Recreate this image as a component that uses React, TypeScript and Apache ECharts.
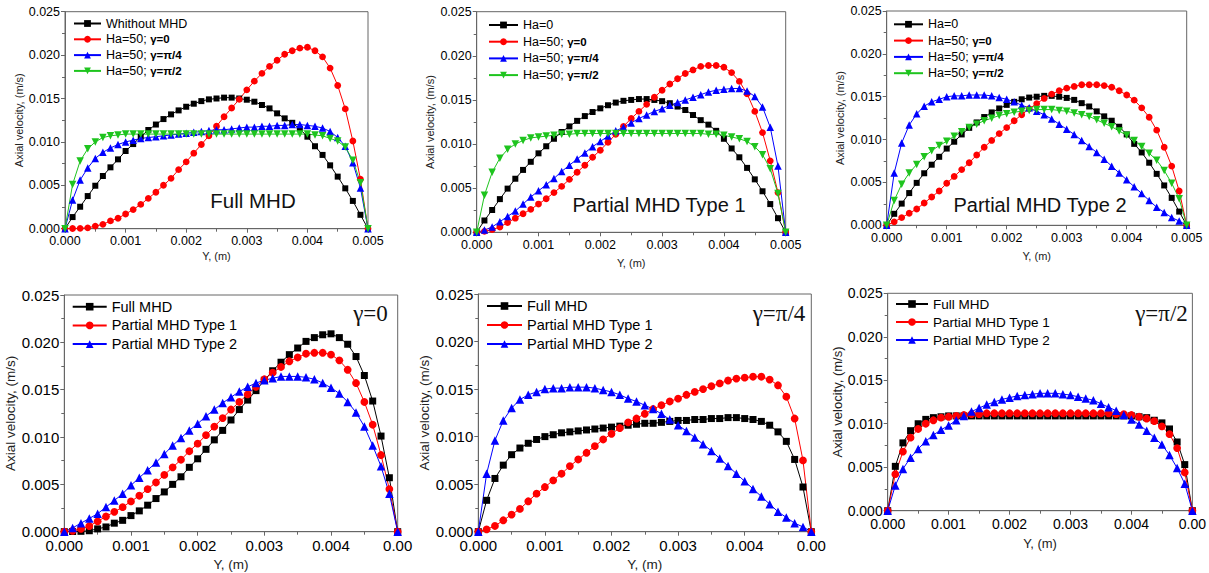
import React, { useEffect, useRef } from "react";
import * as echarts from "echarts";

// Y position (m) of the 41 computed points
const Y_POS = [0, 0.000125, 0.00025, 0.000375, 0.0005, 0.000625, 0.00075, 0.000875, 0.001, 0.001125, 0.00125, 0.001375, 0.0015, 0.001625, 0.00175, 0.001875, 0.002, 0.002125, 0.00225, 0.002375, 0.0025, 0.002625, 0.00275, 0.002875, 0.003, 0.003125, 0.00325, 0.003375, 0.0035, 0.003625, 0.00375, 0.003875, 0.004, 0.004125, 0.00425, 0.004375, 0.0045, 0.004625, 0.00475, 0.004875, 0.005];

// Ha = 0 (without MHD)
const HA_0 = [0, 0.00134, 0.00253, 0.00376, 0.00495, 0.00607, 0.00707, 0.00799, 0.00895, 0.00975, 0.0106, 0.01137, 0.012, 0.01263, 0.01317, 0.01363, 0.01405, 0.0144, 0.0147, 0.0149, 0.015, 0.0151, 0.0151, 0.015, 0.01486, 0.01463, 0.01425, 0.01386, 0.01329, 0.01271, 0.0122, 0.0115, 0.0106, 0.0095, 0.0085, 0.0073, 0.006, 0.00465, 0.0032, 0.0016, 0];

// Full MHD, Ha = 50
const FULL_G0 = [0, 0.00002, 0.00004, 0.0001, 0.0003, 0.0005, 0.0009, 0.0012, 0.0017, 0.0022, 0.0028, 0.0035, 0.0042, 0.005, 0.0058, 0.0068, 0.0077, 0.0087, 0.0097, 0.0107, 0.0118, 0.0129, 0.0139, 0.0149, 0.016, 0.017, 0.0179, 0.0187, 0.0194, 0.0201, 0.0205, 0.0208, 0.0209, 0.0205, 0.0198, 0.0185, 0.0165, 0.0138, 0.0101, 0.0057, 0];
const FULL_G4 = [0, 0.0033, 0.0056, 0.007, 0.0081, 0.0088, 0.0093, 0.0097, 0.01, 0.0102, 0.0104, 0.0105, 0.0106, 0.0107, 0.0108, 0.0109, 0.011, 0.0111, 0.0112, 0.0113, 0.0114, 0.0114, 0.0115, 0.0116, 0.0117, 0.0117, 0.0118, 0.0118, 0.0119, 0.0119, 0.012, 0.012, 0.0119, 0.0118, 0.0116, 0.0112, 0.0105, 0.0095, 0.0076, 0.0047, 0];
const FULL_G2 = [0, 0.0051, 0.0078, 0.0092, 0.01, 0.0105, 0.0107, 0.0108, 0.0109, 0.0109, 0.0109, 0.0109, 0.0109, 0.0109, 0.0109, 0.0109, 0.0109, 0.0109, 0.0109, 0.0109, 0.0109, 0.0109, 0.0109, 0.0109, 0.0109, 0.0109, 0.0109, 0.0109, 0.0109, 0.0109, 0.0109, 0.0109, 0.0109, 0.0108, 0.0107, 0.0104, 0.0101, 0.0094, 0.0079, 0.0053, 0];

// Partial MHD Type 1, Ha = 50
const T1_G0 = [0, 0.0001, 0.0003, 0.0006, 0.0011, 0.0016, 0.0021, 0.0026, 0.0032, 0.0038, 0.0045, 0.0052, 0.006, 0.0068, 0.0076, 0.0085, 0.0093, 0.0102, 0.0111, 0.012, 0.0129, 0.0137, 0.0145, 0.0153, 0.0161, 0.0168, 0.0174, 0.018, 0.0184, 0.0188, 0.0189, 0.0189, 0.0187, 0.0181, 0.0171, 0.0157, 0.0137, 0.0113, 0.0081, 0.0045, 0];
const T1_G4 = [0, 0.00025, 0.0006, 0.0012, 0.0018, 0.0024, 0.0032, 0.004, 0.0047, 0.0054, 0.0061, 0.0069, 0.0076, 0.0083, 0.009, 0.0097, 0.0103, 0.0109, 0.0115, 0.0119, 0.0124, 0.0129, 0.0133, 0.0137, 0.014, 0.0144, 0.0147, 0.015, 0.0153, 0.0156, 0.0159, 0.0161, 0.0162, 0.0163, 0.0163, 0.016, 0.0154, 0.0142, 0.0119, 0.0075, 0];
const T1_G2 = [0, 0.0042, 0.0068, 0.0084, 0.0094, 0.01, 0.0104, 0.0107, 0.0108, 0.0109, 0.011, 0.0111, 0.0111, 0.0112, 0.0112, 0.0112, 0.0112, 0.0112, 0.0112, 0.0112, 0.0112, 0.0112, 0.0112, 0.0112, 0.0112, 0.0112, 0.0112, 0.0112, 0.0112, 0.0112, 0.0111, 0.0111, 0.011, 0.0108, 0.0106, 0.0103, 0.0097, 0.0088, 0.0072, 0.0044, 0];

// Partial MHD Type 2, Ha = 50
const T2_G0 = [0, 0.0004, 0.0009, 0.0014, 0.0019, 0.0026, 0.0033, 0.004, 0.0049, 0.0057, 0.0065, 0.0073, 0.0082, 0.0091, 0.0099, 0.0107, 0.0114, 0.0122, 0.0129, 0.0136, 0.0142, 0.0148, 0.0153, 0.0157, 0.016, 0.0162, 0.0164, 0.0164, 0.0164, 0.0163, 0.0161, 0.0157, 0.0152, 0.0146, 0.0137, 0.0126, 0.0111, 0.0091, 0.0069, 0.004, 0];
const T2_G4 = [0, 0.0061, 0.0096, 0.0117, 0.013, 0.0139, 0.0144, 0.0147, 0.015, 0.0151, 0.0151, 0.0152, 0.0152, 0.0152, 0.0151, 0.0149, 0.0147, 0.0144, 0.014, 0.0137, 0.0133, 0.0129, 0.0124, 0.0118, 0.0112, 0.0106, 0.0099, 0.0092, 0.0085, 0.0077, 0.0069, 0.0061, 0.0053, 0.0045, 0.0037, 0.0029, 0.0021, 0.0015, 0.0009, 0.0005, 0];
const T2_G2 = [0, 0.0029, 0.0048, 0.0061, 0.0071, 0.008, 0.0087, 0.0093, 0.0098, 0.0104, 0.0109, 0.0114, 0.0118, 0.0122, 0.0125, 0.0128, 0.013, 0.0132, 0.0133, 0.0134, 0.0135, 0.0135, 0.0135, 0.0134, 0.0133, 0.0131, 0.0129, 0.0127, 0.0123, 0.0119, 0.0115, 0.011, 0.0105, 0.0099, 0.0092, 0.0084, 0.0076, 0.0064, 0.0049, 0.0031, 0];

const PANEL_TITLES = ["Full MHD", "Partial MHD Type 1", "Partial MHD Type 2", "γ=0", "γ=π/4", "γ=π/2"];
const X_NAME = "Y, (m)";
const Y_NAME = "Axial velocity, (m/s)";

const BLACK = "#000000";
const RED = "#ff0000";
const BLUE = "#0000ff";
const GREEN = "#1ec41e";
const SQUARE = "rect";
const CIRCLE = "circle";
const TRI_UP = "triangle";
const TRI_DOWN = "path://M0,0L10,0L5,9Z";

const SANS = "'Liberation Sans', Arial, sans-serif";
const SERIF = "'Liberation Serif', 'Times New Roman', serif";

type S = [string, number[], string, string];

const PANEL_SERIES: S[][] = [
  [["Whithout MHD", HA_0, BLACK, SQUARE], ["Ha=50; γ=0", FULL_G0, RED, CIRCLE], ["Ha=50; γ=π/4", FULL_G4, BLUE, TRI_UP], ["Ha=50; γ=π/2", FULL_G2, GREEN, TRI_DOWN]],
  [["Ha=0", HA_0, BLACK, SQUARE], ["Ha=50; γ=0", T1_G0, RED, CIRCLE], ["Ha=50; γ=π/4", T1_G4, BLUE, TRI_UP], ["Ha=50; γ=π/2", T1_G2, GREEN, TRI_DOWN]],
  [["Ha=0", HA_0, BLACK, SQUARE], ["Ha=50; γ=0", T2_G0, RED, CIRCLE], ["Ha=50; γ=π/4", T2_G4, BLUE, TRI_UP], ["Ha=50; γ=π/2", T2_G2, GREEN, TRI_DOWN]],
  [["Full MHD", FULL_G0, BLACK, SQUARE], ["Partial MHD Type 1", T1_G0, RED, CIRCLE], ["Partial MHD Type 2", T2_G0, BLUE, TRI_UP]],
  [["Full MHD", FULL_G4, BLACK, SQUARE], ["Partial MHD Type 1", T1_G4, RED, CIRCLE], ["Partial MHD Type 2", T2_G4, BLUE, TRI_UP]],
  [["Full MHD", FULL_G2, BLACK, SQUARE], ["Partial MHD Type 1", T1_G2, RED, CIRCLE], ["Partial MHD Type 2", T2_G2, BLUE, TRI_UP]],
];

// layout (pixels)
const LAYOUT = [
  { left: 65, top: 11.7, width: 303, height: 217, tick: 12.5, nameF: 11, yGap: 39, xGap: 22, lblM: 6, sym: 6, legL: 73, legT: 16.5, legW: 27, legGap: 1.8, legF: 12.5, titleX: 253, titleY: 200, titleF: 20.5 },
  { left: 476.7, top: 11.7, width: 309, height: 220.6, tick: 12.5, nameF: 11, yGap: 41, xGap: 25, lblM: 6, sym: 6, legL: 488, legT: 18, legW: 29, legGap: 2.7, legF: 12.5, titleX: 659, titleY: 205, titleF: 20 },
  { left: 886.7, top: 11, width: 300, height: 214.3, tick: 12.5, nameF: 11, yGap: 41, xGap: 25, lblM: 6, sym: 6, legL: 893, legT: 17.3, legW: 29, legGap: 2.3, legF: 12.5, titleX: 1040, titleY: 205, titleF: 20 },
  { left: 64.3, top: 295, width: 333.4, height: 236.7, tick: 15, nameF: 13.5, yGap: 43, xGap: 26, lblM: 6, sym: 7, legL: 71.7, legT: 298.7, legW: 34, legGap: 2.7, legF: 14.5, titleX: 370.5, titleY: 313, titleF: 23 },
  { left: 478.3, top: 294, width: 333, height: 237.7, tick: 15, nameF: 13.5, yGap: 43, xGap: 26, lblM: 6, sym: 7, legL: 486, legT: 298, legW: 35, legGap: 3, legF: 14.5, titleX: 779, titleY: 313, titleF: 23 },
  { left: 887.7, top: 293.3, width: 305, height: 217.4, tick: 14, nameF: 13, yGap: 39, xGap: 26, lblM: 6, sym: 7, legL: 895, legT: 296.5, legW: 32, legGap: 3, legF: 13.5, titleX: 1161.5, titleY: 313, titleF: 23 },
];

const AXIS_COLOR = "#666666";

function legendFormatter(name: string) {
  const k = name.indexOf("; ");
  return k >= 0 ? name.slice(0, k + 2) + "{b|" + name.slice(k + 2) + "}" : name;
}

function buildOption() {
  const grid: any[] = [];
  const xAxis: any[] = [];
  const yAxis: any[] = [];
  const series: any[] = [];
  const legend: any[] = [];
  const graphic: any[] = [];

  LAYOUT.forEach((L, i) => {
    const bottomRow = i >= 3;
    grid.push({
      left: L.left, top: L.top, width: L.width, height: L.height,
      show: true, borderColor: AXIS_COLOR, borderWidth: 1, backgroundColor: "transparent",
    });
    xAxis.push({
      gridIndex: i, type: "value", min: 0, max: 0.005, interval: 0.001,
      name: X_NAME, nameLocation: "middle", nameGap: L.xGap,
      nameTextStyle: { fontSize: L.nameF, fontFamily: SANS, color: "#222" },
      axisLine: { show: true, onZero: false, lineStyle: { color: AXIS_COLOR, width: 1 } },
      axisTick: { show: true, inside: false, length: 4, lineStyle: { color: AXIS_COLOR } },
      minorTick: { show: true, splitNumber: 2, length: 3, lineStyle: { color: AXIS_COLOR } },
      splitLine: { show: false },
      axisLabel: {
        fontSize: L.tick, fontFamily: SANS, color: "#000", margin: L.lblM,
        formatter: (v: number) => (bottomRow && Math.abs(v - 0.005) < 1e-9 ? "0.00" : v.toFixed(3)),
      },
    });
    yAxis.push({
      gridIndex: i, type: "value", min: 0, max: 0.025, interval: 0.005,
      name: Y_NAME, nameLocation: "middle", nameGap: L.yGap,
      nameTextStyle: { fontSize: L.nameF, fontFamily: SANS, color: "#222" },
      axisLine: { show: true, onZero: false, lineStyle: { color: AXIS_COLOR, width: 1 } },
      axisTick: { show: true, inside: false, length: 4, lineStyle: { color: AXIS_COLOR } },
      minorTick: { show: true, splitNumber: 2, length: 3, lineStyle: { color: AXIS_COLOR } },
      splitLine: { show: false },
      axisLabel: { fontSize: L.tick, fontFamily: SANS, color: "#000", margin: 5, formatter: (v: number) => v.toFixed(3) },
    });
    const names: string[] = [];
    PANEL_SERIES[i].forEach(([name, vals, color, symbol]) => {
      names.push(name);
      series.push({
        type: "line", name, xAxisIndex: i, yAxisIndex: i,
        data: Y_POS.map((y, k) => [y, vals[k]]),
        symbol, symbolSize: symbol === CIRCLE ? L.sym + 0.8 : symbol === SQUARE ? L.sym : L.sym + 1.5,
        showAllSymbol: true,
        lineStyle: { color, width: 1 },
        itemStyle: { color, borderColor: color, borderWidth: 0 },
        emphasis: { disabled: true },
      });
    });
    legend.push({
      orient: "vertical", left: L.legL, top: L.legT, padding: 0,
      itemWidth: L.legW, itemHeight: L.sym + 2.5, itemGap: L.legGap,
      selectedMode: false,
      data: names,
      formatter: legendFormatter,
      textStyle: {
        fontSize: L.legF, fontFamily: SANS, color: "#000", lineHeight: L.legF + 1.5,
        rich: { b: { fontSize: L.legF - 1, fontWeight: "bold", fontFamily: SANS, color: "#000", lineHeight: L.legF + 1.5 } },
      },
    });
    graphic.push({
      type: "text", x: L.titleX, y: L.titleY, silent: true,
      style: {
        text: PANEL_TITLES[i],
        fontSize: L.titleF, fontFamily: bottomRow ? SERIF : SANS, fill: "#111",
        align: "center", verticalAlign: "middle", textAlign: "center", textVerticalAlign: "middle",
      },
    });
  });

  return { animation: false, backgroundColor: "#ffffff", grid, xAxis, yAxis, series, legend, graphic };
}

export default function App() {
  const ref = useRef<HTMLDivElement>(null);
  useEffect(() => {
    if (!ref.current) return;
    const chart = echarts.init(ref.current, undefined, { renderer: "svg" });
    chart.setOption(buildOption() as any);
    return () => chart.dispose();
  }, []);
  return <div ref={ref} style={{ position: "absolute", left: 0, top: 0, width: 1209, height: 573 }} />;
}
